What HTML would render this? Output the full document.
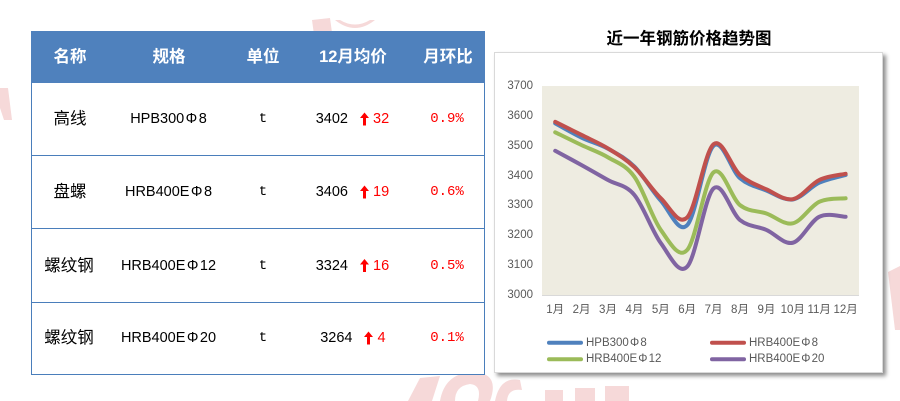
<!DOCTYPE html>
<html><head><meta charset="utf-8">
<style>
html,body{margin:0;padding:0;background:#fff;}
body{width:900px;height:401px;position:relative;overflow:hidden;font-family:"Liberation Sans","Noto Sans CJK SC",sans-serif;}
.t{position:absolute;white-space:nowrap;line-height:20px;height:20px;}
.c{text-align:center;}
.hd{color:#fff;font-weight:bold;font-size:16.5px;}
.cn{font-size:16.5px;color:#000;font-family:"Liberation Sans","Noto Sans CJK SC",sans-serif;}
.sp{font-size:14.5px;color:#000;}
.mono{font-family:"Liberation Mono","Noto Sans CJK SC",monospace;font-size:14px;}
.red{color:#ff0000;}
.phi{display:inline-block;width:1em;text-align:center;}
.ax{font-size:11.5px;color:#595959;line-height:14px;height:14px;}
#box{position:absolute;left:494px;top:52px;width:387px;height:319px;background:#fff;border:1px solid #d9d9d9;box-shadow:3px 3px 4px rgba(0,0,0,0.45);}
svg{position:absolute;left:0;top:0;}
</style></head>
<body>
<!-- watermark shapes -->
<svg width="900" height="401" style="z-index:0">
  <g fill="#f6d9d9">
    <polygon points="312,20 330,18 333,40 315,42"/>
    <path d="M335,20 Q355,36 375,20 L370,20 Q355,29 340,20 Z"/>
    <polygon points="0,88 8,88 12,120 4,120 0,108"/>
    <polygon points="408,401 420,378 440,376 432,401"/>
    <path d="M440,401 Q445,372 475,372 Q500,374 490,401 L478,401 Q482,385 470,384 Q455,386 455,401 Z"/>
    <path d="M495,401 Q500,376 520,380 L522,390 Q508,388 507,401 Z"/>
    <rect x="545" y="390" width="18" height="11"/>
    <rect x="575" y="388" width="20" height="13"/>
    <rect x="605" y="386" width="24" height="15"/>
    <polygon points="888,272 900,266 900,330 895,330"/>
  </g>
</svg>

<!-- table graphics -->
<svg width="900" height="401" style="z-index:1">
  <rect x="31.5" y="31.5" width="453" height="343" fill="#fff" stroke="#4a7ebb" stroke-width="1"/>
  <rect x="31" y="31" width="454" height="52" fill="#4f81bd"/>
  <line x1="31" y1="155.5" x2="485" y2="155.5" stroke="#4a7ebb" stroke-width="1"/>
  <line x1="31" y1="228.5" x2="485" y2="228.5" stroke="#4a7ebb" stroke-width="1"/>
  <line x1="31" y1="302.5" x2="485" y2="302.5" stroke="#4a7ebb" stroke-width="1"/>
  <g fill="#ff0000">
    <path d="M360,118 L364.5,112.5 L369,118 L366,118 L366,125.5 L363,125.5 L363,118 Z"/>
    <path d="M360,191 L364.5,185.5 L369,191 L366,191 L366,198.5 L363,198.5 L363,191 Z"/>
    <path d="M360,264.5 L364.5,259 L369,264.5 L366,264.5 L366,272 L363,272 L363,264.5 Z"/>
    <path d="M364,337 L368.5,331.5 L373,337 L370,337 L370,344.5 L367,344.5 L367,337 Z"/>
  </g>
</svg>

<div id="box"></div>

<!-- chart graphics -->
<svg width="900" height="401" style="z-index:3">
  <rect x="542" y="86" width="317" height="209" fill="#eeece1"/>
  <line x1="542" y1="295.5" x2="859" y2="295.5" stroke="#d9d9d9" stroke-width="1"/>
  <g id="series" fill="none" stroke-width="4" stroke-linecap="round" stroke-linejoin="round"></g>
  <g stroke-width="4" stroke-linecap="round">
    <line x1="549" y1="342.7" x2="581" y2="342.7" stroke="#4f81bd"/>
    <line x1="712" y1="342.7" x2="744" y2="342.7" stroke="#c0504d"/>
    <line x1="549" y1="359.3" x2="581" y2="359.3" stroke="#9bbb59"/>
    <line x1="712" y1="359.3" x2="744" y2="359.3" stroke="#8064a2"/>
  </g>
</svg>

<div style="position:absolute;left:0;top:0;width:900px;height:401px;z-index:4">
  <!-- table header -->
  <div class="t c hd" style="left:30px;width:80px;top:47px;">名称</div>
  <div class="t c hd" style="left:129px;width:80px;top:47px;">规格</div>
  <div class="t c hd" style="left:223px;width:80px;top:47px;">单位</div>
  <div class="t c hd" style="left:303px;width:100px;top:47px;">12月均价</div>
  <div class="t c hd" style="left:408px;width:80px;top:47px;">月环比</div>

  <!-- row 1 -->
  <div class="t c cn" style="left:30px;width:80px;top:109px;">高线</div>
  <div class="t c sp" style="left:108px;width:121px;top:109px;">HPB300<span class="phi">Φ</span>8</div>
  <div class="t c mono" style="left:243px;width:40px;top:109px;">t</div>
  <div class="t sp" style="left:248px;width:100px;top:109px;text-align:right;">3402</div>
  <div class="t sp red" style="left:373px;top:109px;">32</div>
  <div class="t c mono red" style="left:417px;width:60px;top:109px;">0.9%</div>

  <!-- row 2 -->
  <div class="t c cn" style="left:30px;width:80px;top:182px;">盘螺</div>
  <div class="t c sp" style="left:108px;width:121px;top:182px;">HRB400E<span class="phi">Φ</span>8</div>
  <div class="t c mono" style="left:243px;width:40px;top:182px;">t</div>
  <div class="t sp" style="left:248px;width:100px;top:182px;text-align:right;">3406</div>
  <div class="t sp red" style="left:373px;top:182px;">19</div>
  <div class="t c mono red" style="left:417px;width:60px;top:182px;">0.6%</div>

  <!-- row 3 -->
  <div class="t c cn" style="left:29px;width:80px;top:255.5px;">螺纹钢</div>
  <div class="t c sp" style="left:108px;width:121px;top:255.5px;">HRB400E<span class="phi">Φ</span>12</div>
  <div class="t c mono" style="left:243px;width:40px;top:255.5px;">t</div>
  <div class="t sp" style="left:248px;width:100px;top:255.5px;text-align:right;">3324</div>
  <div class="t sp red" style="left:373px;top:255.5px;">16</div>
  <div class="t c mono red" style="left:417px;width:60px;top:255.5px;">0.5%</div>

  <!-- row 4 -->
  <div class="t c cn" style="left:29px;width:80px;top:328px;">螺纹钢</div>
  <div class="t c sp" style="left:108px;width:121px;top:328px;">HRB400E<span class="phi">Φ</span>20</div>
  <div class="t c mono" style="left:243px;width:40px;top:328px;">t</div>
  <div class="t sp" style="left:252.5px;width:100px;top:328px;text-align:right;">3264</div>
  <div class="t sp red" style="left:377.5px;top:328px;">4</div>
  <div class="t c mono red" style="left:417px;width:60px;top:328px;">0.1%</div>

  <!-- chart title -->
  <div class="t c" style="left:589px;width:200px;top:29px;font-size:16.5px;font-weight:bold;color:#000;">近一年钢筋价格趋势图</div>

  <!-- y labels -->
  <div class="t ax" style="left:493px;width:40px;text-align:right;top:79px;">3700</div>
  <div class="t ax" style="left:493px;width:40px;text-align:right;top:109px;">3600</div>
  <div class="t ax" style="left:493px;width:40px;text-align:right;top:139px;">3500</div>
  <div class="t ax" style="left:493px;width:40px;text-align:right;top:169px;">3400</div>
  <div class="t ax" style="left:493px;width:40px;text-align:right;top:198px;">3300</div>
  <div class="t ax" style="left:493px;width:40px;text-align:right;top:228px;">3200</div>
  <div class="t ax" style="left:493px;width:40px;text-align:right;top:258px;">3100</div>
  <div class="t ax" style="left:493px;width:40px;text-align:right;top:288px;">3000</div>

  <!-- x labels -->
  <div id="xl"></div>

  <!-- legend -->
  <div class="t ax" style="left:586px;top:335.7px;">HPB300<span class="phi">Φ</span>8</div>
  <div class="t ax" style="left:749px;top:335.7px;">HRB400E<span class="phi">Φ</span>8</div>
  <div class="t ax" style="left:586px;top:352.3px;">HRB400E<span class="phi">Φ</span>12</div>
  <div class="t ax" style="left:749px;top:352.3px;">HRB400E<span class="phi">Φ</span>20</div>
</div>

<script>
(function(){
  var series=[
    ["#4f81bd",[3575,3527,3490,3430,3316,3234,3500,3391,3350,3320,3376,3402]],
    ["#c0504d",[3580,3536,3491,3428,3324,3260,3505,3402,3354,3321,3385,3406]],
    ["#9bbb59",[3545,3502,3461,3396,3218,3151,3411,3301,3273,3240,3312,3324]],
    ["#8064a2",[3483,3435,3385,3335,3174,3095,3357,3251,3218,3175,3262,3262]]
  ];
  function X(i){return 555.2+26.4*i;}
  function Y(v){return 295-(v-3000)*0.29857;}
  var g=document.getElementById('series');
  var ns="http://www.w3.org/2000/svg";
  series.forEach(function(s){
    var p=s[1].map(function(v,i){return [X(i),Y(v)];});
    var d="M"+p[0][0].toFixed(2)+","+p[0][1].toFixed(2);
    for(var i=0;i<p.length-1;i++){
      var p0=p[i-1]||p[i],p1=p[i],p2=p[i+1],p3=p[i+2]||p[i+1];
      var c1x=p1[0]+(p2[0]-p0[0])/6,c1y=p1[1]+(p2[1]-p0[1])/6;
      var c2x=p2[0]-(p3[0]-p1[0])/6,c2y=p2[1]-(p3[1]-p1[1])/6;
      d+=" C"+c1x.toFixed(2)+","+c1y.toFixed(2)+" "+c2x.toFixed(2)+","+c2y.toFixed(2)+" "+p2[0].toFixed(2)+","+p2[1].toFixed(2);
    }
    var el=document.createElementNS(ns,"path");
    el.setAttribute("d",d);el.setAttribute("stroke",s[0]);
    g.appendChild(el);
  });
  var xl=document.getElementById('xl'),h="";
  for(var i=0;i<12;i++){
    h+='<div class="t ax c" style="left:'+(X(i)-20).toFixed(1)+'px;width:40px;top:303px;">'+(i+1)+'月</div>';
  }
  xl.innerHTML=h;
})();
</script>
</body></html>
